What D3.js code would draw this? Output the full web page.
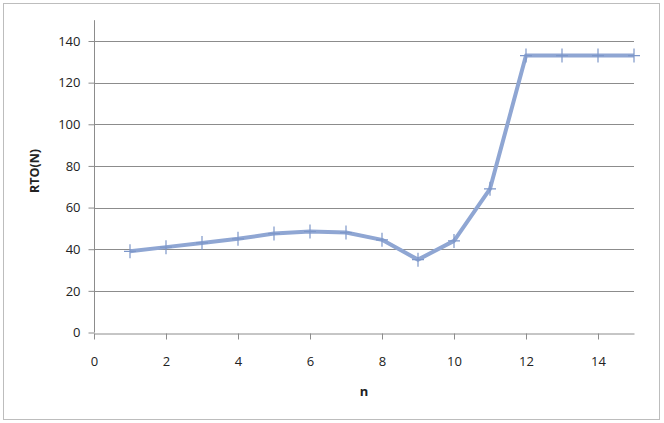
<!DOCTYPE html>
<html>
<head>
<meta charset="utf-8">
<script src="https://cdn.jsdelivr.net/npm/d3@7"></script>
<style>
  body { margin: 0; background: #fff; }
  text { font-family: "Open Sans", "DejaVu Sans", sans-serif; fill: #222; }
</style>
</head>
<body>
<svg id="chart" width="664" height="423"></svg>
<script>
var nValues = [1, 2, 3, 4, 5, 6, 7, 8, 9, 10, 11, 12, 13, 14, 15];
var rtoValues = [39, 41, 43, 45, 47.5, 48.5, 48, 44.5, 35, 44, 69, 133, 133, 133, 133];
var xTicks = [0, 2, 4, 6, 8, 10, 12, 14];
var yTicks = [0, 20, 40, 60, 80, 100, 120, 140];

var svg = d3.select("#chart");

// outer frame
svg.append("rect")
  .attr("x", 3.5).attr("y", 3.5)
  .attr("width", 656).attr("height", 416)
  .attr("fill", "none")
  .attr("stroke", "#bdbdbd")
  .attr("stroke-width", 1);

var x = d3.scaleLinear().domain([0, 15]).range([94, 634]);
var y = d3.scaleLinear().domain([0, 140]).range([332.5, 41]);

// gridlines
svg.append("g")
  .selectAll("line")
  .data(yTicks.filter(function(d) { return d > 0; }))
  .enter()
  .append("line")
  .attr("x1", x(0)).attr("x2", x(15))
  .attr("y1", function(d) { return Math.round(y(d)) + 0.5; })
  .attr("y2", function(d) { return Math.round(y(d)) + 0.5; })
  .attr("stroke", "#8c8c8c");

// y axis
var yAxis = svg.append("g")
  .attr("transform", "translate(" + (x(0) + 0.5) + ",0)")
  .call(d3.axisLeft(y).tickValues(yTicks).tickSize(6).tickPadding(8));
yAxis.select(".domain").attr("d", "M0," + y(150) + "V" + y(0));

// x axis
var xAxis = svg.append("g")
  .attr("transform", "translate(0," + (Math.round(y(0)) + 0.5) + ")")
  .call(d3.axisBottom(x).tickValues(xTicks).tickSize(6).tickPadding(17).tickSizeOuter(0));

svg.selectAll(".domain, .tick line").attr("stroke", "#8c8c8c");
svg.selectAll(".tick text")
  .style("font-size", "13px")
  .attr("fill", "#222");

// axis titles
svg.append("text")
  .attr("transform", "translate(39,171) rotate(-90)")
  .attr("text-anchor", "middle")
  .style("font-size", "12.5px")
  .style("font-weight", "bold")
  .text("RTO(N)");

svg.append("text")
  .attr("x", 364).attr("y", 396)
  .attr("text-anchor", "middle")
  .style("font-size", "13px")
  .style("font-weight", "bold")
  .text("n");

// series line
var line = d3.line()
  .x(function(d, i) { return x(nValues[i]); })
  .y(function(d) { return y(d); });

svg.append("path")
  .datum(rtoValues)
  .attr("d", line)
  .attr("fill", "none")
  .attr("stroke", "#8fa6d3")
  .attr("stroke-width", 4)
  .attr("stroke-linejoin", "round");

// plus markers
svg.append("g")
  .selectAll("path")
  .data(rtoValues)
  .enter()
  .append("path")
  .attr("d", function(d, i) {
    var cx = x(nValues[i]), cy = y(d);
    return "M" + (cx - 6) + "," + cy + "H" + (cx + 6) + "M" + cx + "," + (cy - 7) + "V" + (cy + 7);
  })
  .attr("stroke", "#7d97c9")
  .attr("stroke-width", 1.2);
</script>
</body>
</html>
